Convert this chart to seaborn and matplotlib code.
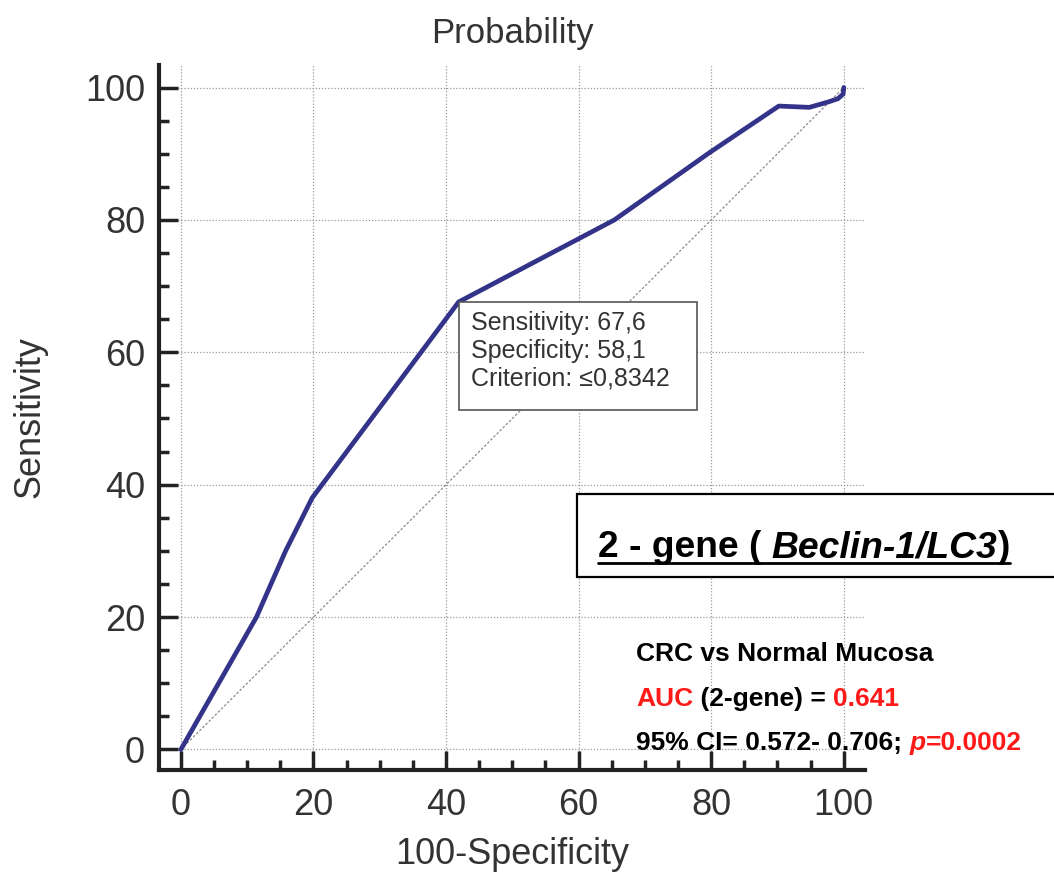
import numpy as np
import pandas as pd
import matplotlib
matplotlib.use("Agg")
import matplotlib.pyplot as plt
from matplotlib.lines import Line2D
from matplotlib.patches import Rectangle
from matplotlib.ticker import MultipleLocator
import seaborn as sns

# ROC curve (100-Specificity, Sensitivity)
fpr = [0, 11.4, 15.8, 19.8, 41.9, 65.4, 79.8, 90.2, 94.8, 97.6, 99.1, 99.9, 100]
tpr = [0, 20, 30, 38, 67.6, 80, 90.2, 97.2, 97.0, 97.8, 98.3, 99.0, 100]
ref_line = [0, 100]

cut_lines = ["Sensitivity: 67,6", "Specificity: 58,1", "Criterion: \u22640,8342"]
cut_point = (41.9, 67.6)

W, H = 1054, 875

sns.set_theme(style="white")
plt.rcParams['font.family'] = ['Liberation Sans', 'DejaVu Sans']

fig = plt.figure(figsize=(W / 100, H / 100), dpi=100)
ax = fig.add_axes([159 / W, 1 - 770 / H, (865 - 159) / W, (770 - 65) / H])

df = pd.DataFrame({"fpr": fpr, "tpr": tpr})
sns.lineplot(x=ref_line, y=ref_line, ax=ax, color="#8a8a8a", lw=0.9,
             linestyle=(0, (2, 1.5)), zorder=2)
sns.lineplot(data=df, x="fpr", y="tpr", ax=ax, sort=False, estimator=None,
             color="#33338a", lw=3.4, zorder=3)

ax.set_xlim(-3.3, 103.2)
ax.set_ylim(-3.1, 103.4)
ax.xaxis.set_major_locator(MultipleLocator(20))
ax.yaxis.set_major_locator(MultipleLocator(20))
ax.xaxis.set_minor_locator(MultipleLocator(5))
ax.yaxis.set_minor_locator(MultipleLocator(5))
ax.grid(True, which="major", color="#9a9a9a", linestyle=(0, (1, 1.5)), lw=0.9)

for side in ["top", "right"]:
    ax.spines[side].set_visible(False)
for side in ["left", "bottom"]:
    ax.spines[side].set_linewidth(3)
    ax.spines[side].set_color("#222222")

ax.tick_params(which="major", direction="in", length=14, width=2.5,
               color="#222222", labelsize=26, labelcolor="#333333",
               bottom=True, left=True)
ax.tick_params(which="minor", direction="in", length=7, width=2.5,
               color="#222222", bottom=True, left=True)
ax.tick_params(axis="x", which="major", pad=13)
ax.tick_params(axis="y", which="major", pad=10)

ax.set_xlabel("100-Specificity", fontsize=26, color="#333333")
ax.set_ylabel("Sensitivity", fontsize=26, color="#333333")
ax.xaxis.set_label_coords(0.5, -(855 - 770) / 705, transform=ax.transAxes)
ax.yaxis.set_label_coords(-(159 - 30) / 706, 0.5, transform=ax.transAxes)
ax.xaxis.label.set_va("center")
ax.yaxis.label.set_va("center")
fig.text(512 / W, 1 - 33 / H, "Probability", fontsize=25, color="#333333",
         ha="center", va="center")

# cut-off box
box_w, box_h = 238 / 6.63, 108 / 6.62
ax.add_patch(Rectangle((cut_point[0], cut_point[1] - box_h), box_w, box_h,
                       fill=True, facecolor="white", edgecolor="#555555",
                       lw=1.2, zorder=4))
ax.text(cut_point[0] + 1.9, cut_point[1] - 1.4, "\n".join(cut_lines),
        fontsize=18, color="#333333", va="top", ha="left",
        linespacing=1.18, zorder=5)

renderer = fig.canvas.get_renderer()


def text_width(s, size, style="normal"):
    t = fig.text(0, 0, "|" + s + "|", fontsize=size, fontweight="bold", fontstyle=style)
    t2 = fig.text(0, 0, "||", fontsize=size, fontweight="bold", fontstyle=style)
    w = t.get_window_extent(renderer).width - t2.get_window_extent(renderer).width
    t.remove()
    t2.remove()
    return w


def put_pieces(x_px, y_px, pieces, size):
    x = x_px
    for s, color, style in pieces:
        fig.text(x / W, 1 - y_px / H, s, fontsize=size, fontweight="bold",
                 fontstyle=style, color=color, va="baseline", ha="left")
        x += text_width(s, size, style)
    return x


# gene box
fig.patches.append(Rectangle((577 / W, 1 - 577 / H), (W + 10 - 577) / W, 83 / H,
                             transform=fig.transFigure, fill=True,
                             facecolor="white", edgecolor="black", lw=1.6,
                             figure=fig, zorder=1))
x_end = put_pieces(598, 557, [("2 - gene ( ", "black", "normal"),
                              ("Beclin-1/LC3", "black", "italic"),
                              (")", "black", "normal")], 26.8)
fig.lines.append(Line2D([598 / W, x_end / W], [1 - 563 / H, 1 - 563 / H],
                        transform=fig.transFigure, color="black", lw=2,
                        figure=fig))

red = "#ff1a1a"
put_pieces(636, 661, [("CRC vs Normal Mucosa", "black", "normal")], 19)
put_pieces(636, 706, [("AUC", red, "normal"), (" (2-gene) = ", "black", "normal"),
                      ("0.641", red, "normal")], 19)
put_pieces(636, 750, [("95% CI= 0.572- 0.706; ", "black", "normal"),
                      ("p", red, "italic"), ("=0.0002", red, "normal")], 19)

fig.savefig("out.png", dpi=100)
